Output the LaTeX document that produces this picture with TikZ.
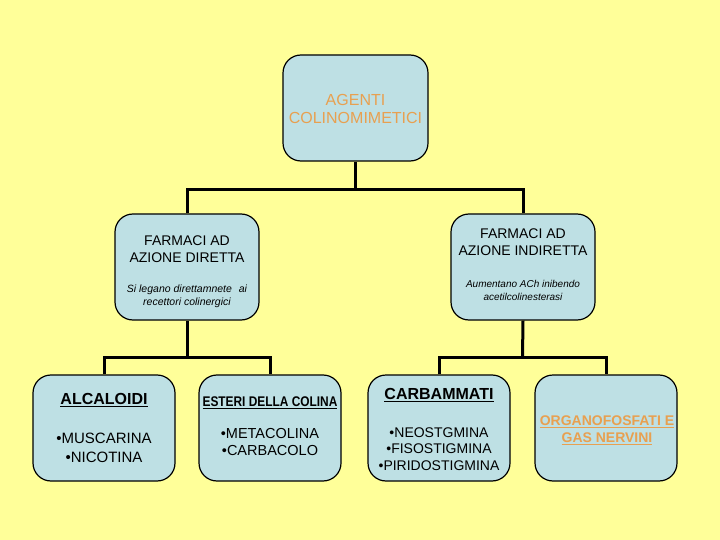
\documentclass[tikz,border=0pt]{standalone}
\usepackage{fontspec}
\setmainfont{Liberation Sans}
\newfontfamily\condfont[FakeStretch=0.85]{Liberation Sans}
\definecolor{bgy}{HTML}{FFFF99}
\definecolor{boxb}{HTML}{BEE0E4}
\definecolor{orng}{HTML}{E8A050}
\tikzset{
  box/.style={draw=black, line width=1.2pt, fill=boxb, rounded corners=18pt, minimum width=144pt, minimum height=106pt, inner sep=0pt},
  conn/.style={draw=black, line width=3pt},
  txt/.style={align=center, inner sep=0pt, font=\fontsize{14}{17}\selectfont},
  small/.style={align=center, inner sep=0pt, font=\fontsize{10}{13}\selectfont\itshape},
}
\begin{document}
\begin{tikzpicture}[x=1pt,y=-1pt]
\useasboundingbox[fill=bgy] (0,0) rectangle (720,540);
\node[box, minimum width=145pt] (top) at (355.5,108) {};
\node[box] (midL) at (187,267) {};
\node[box] (midR) at (523,267) {};
\node[box, minimum width=142pt] (alc) at (104,428) {};
\node[box, minimum width=142pt] (est) at (270,428) {};
\node[box, minimum width=142pt] (carb) at (439,428) {};
\node[box, minimum width=142pt] (org) at (606,428) {};
\coordinate (j1) at (355.5,190);
\coordinate (j2) at (187,357);
\coordinate (j3) at (522.5,357);
\draw[conn] (top.south) -- (j1);
\draw[conn] (midL.north) |- (j1) -| (midR.north);
\draw[conn] (midL.south) -- (j2);
\draw[conn] (alc.north) |- (j2) -| (est.north);
\draw[conn] (midR.south) -- (j3);
\draw[conn] (carb.north) |- (j3) -| (org.north);
% texts
\node[txt, text=orng, font=\fontsize{16}{18}\selectfont] (t1) at (355.5,109) {AGENTI\\COLINOMIMETICI};
\node[txt] (t2) at (187,249) {FARMACI AD\\AZIONE DIRETTA};
\node[small, font=\fontsize{10.5}{13}\selectfont\itshape] (t3) at (187,296) {Si legano direttamnete\hspace{4pt} ai\\recettori colinergici};
\node[txt] (t4) at (523,242) {FARMACI AD\\AZIONE INDIRETTA};
\node[small] (t5) at (523,290) {Aumentano ACh inibendo\\acetilcolinesterasi};
\node[txt, font=\fontsize{16}{18}\selectfont\bfseries] (t6) at (104,400) {\underline{ALCALOIDI}};
\node[txt, font=\fontsize{15}{19}\selectfont] (t7) at (104,448) {•MUSCARINA\\•NICOTINA};
\node[txt, font=\fontsize{14}{16}\selectfont\condfont\bfseries] (t8) at (270,403) {\underline{ESTERI DELLA COLINA}};
\node[txt, font=\fontsize{14.5}{17}\selectfont] (t9) at (270,442) {•METACOLINA\\•CARBACOLO};
\node[txt, font=\fontsize{16}{18}\selectfont\bfseries] (t10) at (439,395) {\underline{CARBAMMATI}};
\node[txt, font=\fontsize{14}{16.5}\selectfont] (t11) at (439,449) {•NEOSTGMINA\\•FISOSTIGMINA\\•PIRIDOSTIGMINA};
\node[txt, text=orng, font=\fontsize{14}{17}\selectfont\bfseries] (t12) at (607,430) {\underline{ORGANOFOSFATI E}\\\underline{GAS NERVINI}};
\end{tikzpicture}
\end{document}
